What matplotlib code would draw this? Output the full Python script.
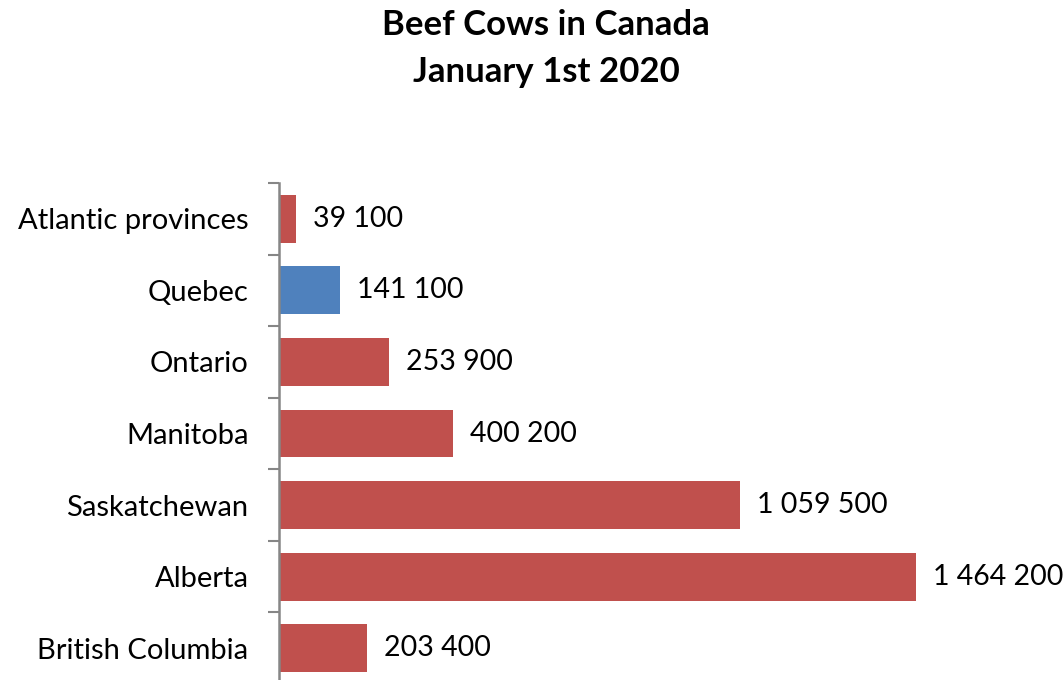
import matplotlib
matplotlib.use("Agg")
import matplotlib.pyplot as plt
from matplotlib.ticker import FixedLocator

provinces = ["Atlantic provinces", "Quebec", "Ontario", "Manitoba",
             "Saskatchewan", "Alberta", "British Columbia"]
cows = [39100, 141100, 253900, 400200, 1059500, 1464200, 203400]
highlight = "Quebec"

RED = "#C0504D"
BLUE = "#4F81BD"

plt.rcParams['font.family'] = ['Lato', 'DejaVu Sans']

W, H = 1063, 680
fig = plt.figure(figsize=(W / 100, H / 100), dpi=100)
left_px, right_px = 279, 1060
top_px, bot_px = 183, 684
ax = fig.add_axes([left_px / W, 1 - bot_px / H, (right_px - left_px) / W, (bot_px - top_px) / H])

n = len(provinces)
ypos = list(range(n))
colors = [BLUE if p == highlight else RED for p in provinces]
ax.barh(ypos, cows, height=0.67, color=colors, left=0)
ax.set_ylim(n - 0.5, -0.5)
scale_max = 1464200 * (right_px - left_px) / (916 - left_px)
ax.set_xlim(0, scale_max)

ax.set_yticks(ypos)
ax.set_yticklabels(provinces, fontsize=21)
ax.yaxis.set_minor_locator(FixedLocator([i - 0.5 for i in range(n + 1)]))
ax.tick_params(axis='y', which='major', length=0, pad=22)
ax.tick_params(axis='y', which='minor', length=8, width=1.5, color='#868686')
ax.set_xticks([])
for s in ['top', 'right', 'bottom']:
    ax.spines[s].set_visible(False)
ax.spines['left'].set_color('#868686')
ax.spines['left'].set_linewidth(1.8)

def fmt(v):
    return f"{v:,}".replace(",", " ")

for y, v in zip(ypos, cows):
    ax.annotate(fmt(v), (v, y), xytext=(12, 0), textcoords='offset points',
                va='center', ha='left', fontsize=20.5, annotation_clip=False)

fig.text(546 / W, 1 - 25 / H, "Beef Cows in Canada",
         ha='center', va='center', fontsize=25, fontweight='bold')
fig.text(546 / W, 1 - 72 / H, "January 1st 2020",
         ha='center', va='center', fontsize=25, fontweight='bold')

fig.savefig("out.png", dpi=100)
